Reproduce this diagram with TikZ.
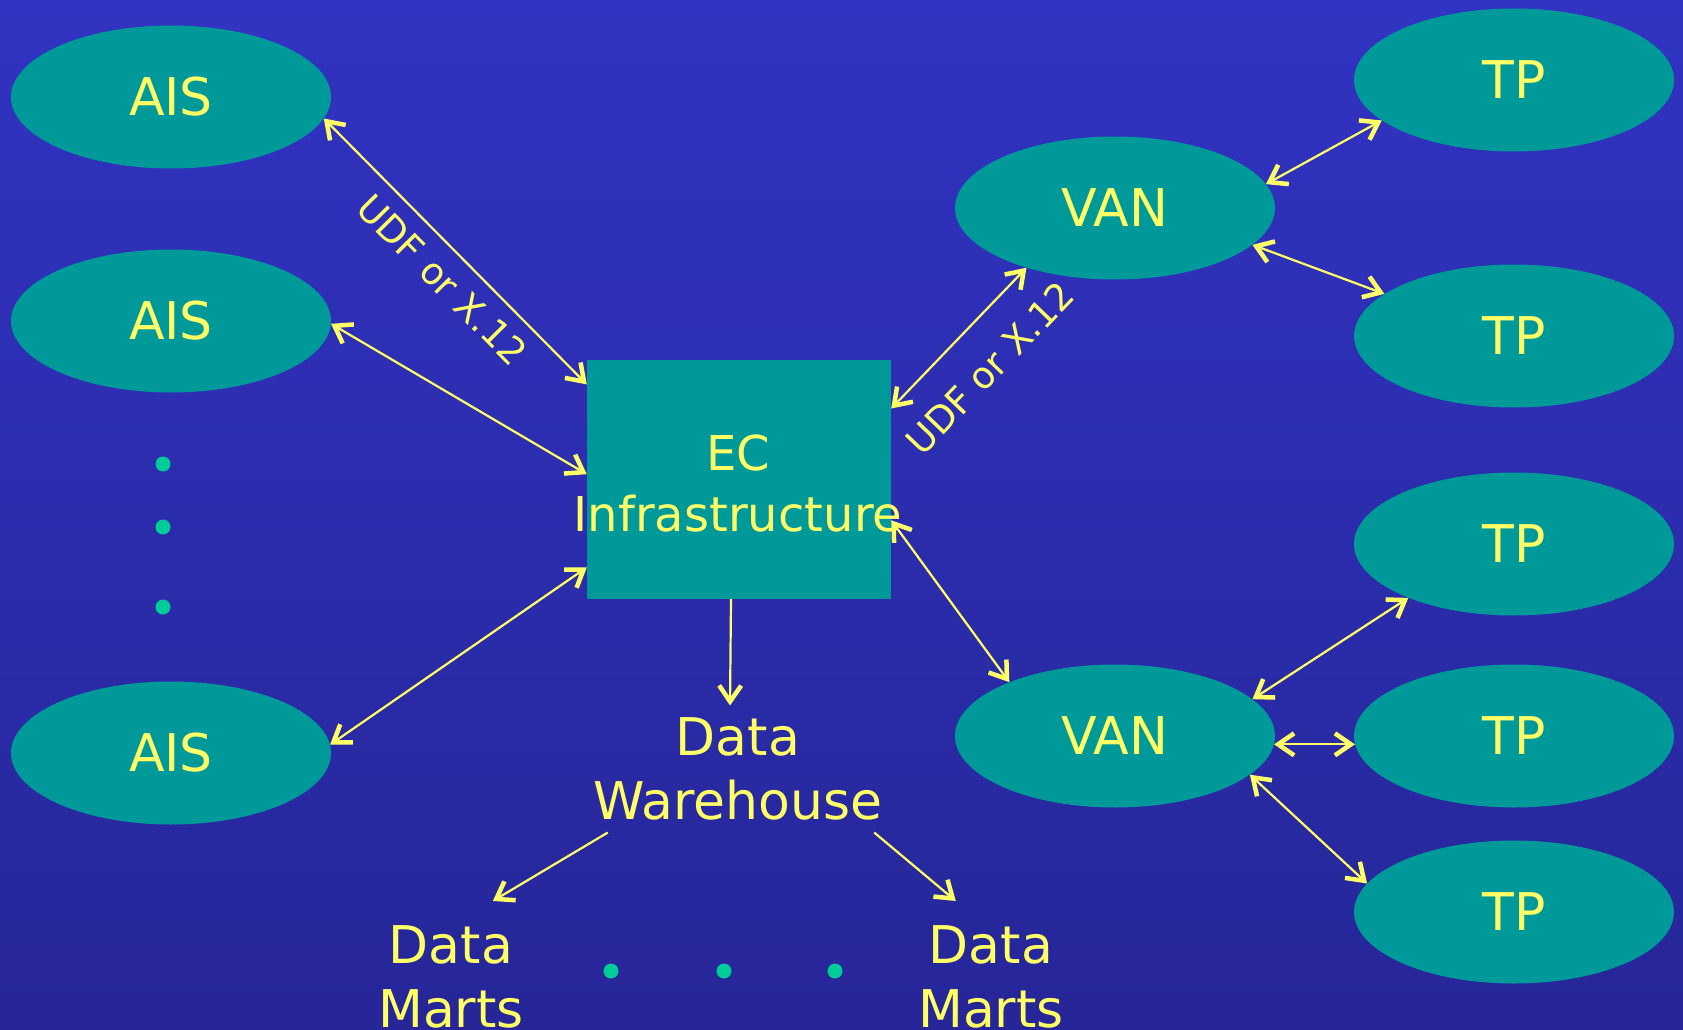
\documentclass[tikz,border=0pt]{standalone}
\usepackage{fontspec}
\setmainfont{DejaVu Sans}
\usetikzlibrary{arrows.meta,shapes.geometric}

\definecolor{bgtop}{RGB}{49,51,194}
\definecolor{bgbot}{RGB}{38,38,152}
\definecolor{ecteal}{RGB}{0,153,153}
\definecolor{ecyellow}{RGB}{255,255,102}
\definecolor{ecdot}{RGB}{0,204,153}

\tikzset{
  party/.style={ellipse, fill=ecteal, text=ecyellow, minimum width=320pt, minimum height=143pt, inner sep=0pt, font=\fontsize{52}{60}\selectfont},
  hub/.style={rectangle, fill=ecteal, minimum width=304pt, minimum height=239pt, inner sep=0pt},
  hubtext/.style={text=ecyellow, inner sep=0pt, align=center, font=\fontsize{48}{61}\selectfont},
  store/.style={text=ecyellow, align=center, font=\fontsize{52}{64}\selectfont},
  etcdot/.style={circle, fill=ecdot, minimum size=15pt, inner sep=0pt},
  link/.style={draw=ecyellow, line width=2.2pt, >={Straight Barb[length=16pt,width=22pt,line width=4.5pt]}},
  proto/.style={text=ecyellow, font=\fontsize{37}{44}\selectfont, sloped, inner sep=0pt},
}

\begin{document}
\begin{tikzpicture}[x=1pt,y=-1pt]
  \useasboundingbox (0,0) rectangle (1683,1030);
  \shade[top color=bgtop,bottom color=bgbot] (0,0) rectangle (1683,1030);

  % application systems
  \node[party] (ais1) at (171,97) {AIS};
  \node[party] (ais2) at (171,321) {AIS};
  \node[party] (ais3) at (171,753) {AIS};
  \foreach \y [count=\i] in {464,527,607}
    \node[etcdot] (ldot\i) at (163,\y) {};

  \node[hub] (ec) at (739,479.5) {};
  \node[hubtext] (ectext) at (738,483.5) {EC\\Infrastructure};

  \node[party] (van1) at (1115,208) {VAN};
  \node[party] (van2) at (1115,736) {VAN};
  \foreach \y [count=\i] in {80,336,544,736,912}
    \node[party] (tp\i) at (1514,\y) {TP};

  \node[store,inner sep=12pt] (dw) at (738,769) {Data\\Warehouse};
  \node[store,inner sep=24pt] (dml) at (451,976.5) {Data\\Marts};
  \node[store,inner sep=24pt] (dmr) at (991,976.5) {Data\\Marts};
  \foreach \x [count=\i] in {611,724,835}
    \node[etcdot] (bdot\i) at (\x,971) {};

  \draw[link,<->] (ais1.-8.6) -- node[proto,pos=0.53,below=14pt] (lbl1) {UDF or X.12} (ec.148.6);
  \draw[link,<->] (ais2.-1.8) -- (ec.178.7);
  \draw[link,<->] (ais3.3.6) -- (ec.210.3);
  \draw[link,<->] (ec.25) -- node[proto,pos=0.5,below=28pt] (lbl2) {UDF or X.12} (van1.214.7);
  \draw[link,<->] (ec.-15.9) -- (van2.153.2);
  \draw[link,->] ([xshift=-8pt]ec.south) -- ([xshift=-8pt]dw.north);
  \draw[link,->] (dw.-154.3) -- (dml.61.5);
  \draw[link,->] (dw.-25.4) -- (dmr.115.5);

  \draw[link,<->] (van1.9.7) -- (tp1.197.6);
  \draw[link,<->] (van1.-15.7) -- (tp2.162.4);
  \draw[link,<->] (van2.15.7) -- (tp3.207.2);
  \draw[link,<->] (van2.-3) -- (tp4.183);
  \draw[link,<->] (van2.-16.4) -- (tp5.169.8);
\end{tikzpicture}
\end{document}
